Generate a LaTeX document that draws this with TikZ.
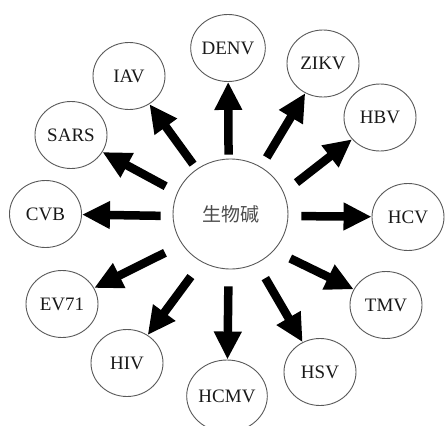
\documentclass[tikz,border=0pt]{standalone}
\usepackage{fontspec}
\setmainfont{Liberation Serif}
\newfontfamily\cjkfont{Noto Sans CJK SC}
\usetikzlibrary{arrows.meta,shapes.geometric}

\begin{document}
\begin{tikzpicture}[x=1pt,y=-1pt,>={Triangle[length=28pt,width=26pt]},
    virus/.style={ellipse,draw=black!65,line width=0.9pt,minimum width=72pt,minimum height=67pt,inner sep=0pt,font=\fontsize{19}{19}\selectfont,text=black!90},
    hub/.style={ellipse,draw=black!65,line width=0.9pt,minimum width=115pt,minimum height=110pt,inner sep=0pt,font=\cjkfont\fontsize{19}{19}\selectfont,text=black!70},
    fat/.style={->,line width=8.5pt}]

    \useasboundingbox (0,0) rectangle (445,426);
    \clip (0,0) rectangle (445,426);

    % 中心节点
    \node[hub] (center) at (230.5,214) {生物碱};

    % 外围病毒节点
    \foreach \name/\x/\y in {DENV/228/48, ZIKV/323/63.5, HBV/380/117.5, HCV/408/217,
            TMV/386/305, HSV/320/372, HIV/127/363, EV71/62/304,
            CVB/45.5/214, SARS/71/135, IAV/129/76} {
            \node[virus] (\name) at (\x,\y) {\name};
        }
    \node[virus,minimum width=80pt,minimum height=72pt] (HCMV) at (227,396) {HCMV};

    % 粗箭头
    \foreach \name/\a/\s in {DENV/92/4, ZIKV/57/11, HBV/22/16, HCV/358/13,
            TMV/320/18, HSV/298/17, HCMV/268/17, HIV/239/18,
            EV71/212/19, CVB/182/12, SARS/158/13, IAV/127/6} {
            \draw[fat,shorten <=\s pt] (center.\a) -- (\name);
        }

\end{tikzpicture}
\end{document}
